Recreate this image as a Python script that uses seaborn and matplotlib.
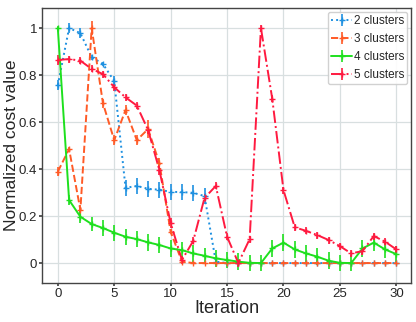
import numpy as np
import matplotlib
matplotlib.use("Agg")
import matplotlib.pyplot as plt
import seaborn as sns

# iterations
iterations = list(range(31))

# normalized cost per number of clusters
cost2 = [0.757, 1.0, 0.978, 0.876, 0.847, 0.774, 0.32, 0.328, 0.316, 0.312, 0.303,
         0.302, 0.299, 0.285, 0.006, 0.0, 0.0, 0.0, 0.0, 0.0, 0.0,
         0.0, 0.0, 0.0, 0.0, 0.0, 0.0, 0.0, 0.0, 0.0, 0.0]
err2 = [0.02, 0.02, 0.02, 0.01, 0.01, 0.02, 0.035, 0.035, 0.035, 0.035, 0.035,
        0.035, 0.035, 0.035, 0.01, 0.005, 0.005, 0.005, 0.005, 0.005, 0.005,
        0.005, 0.005, 0.005, 0.005, 0.005, 0.005, 0.005, 0.005, 0.005, 0.005]

cost3 = [0.389, 0.485, 0.226, 1.0, 0.68, 0.523, 0.651, 0.523, 0.57, 0.425, 0.133,
         0.006, 0.0, 0.0, 0.0, 0.0, 0.0, 0.0, 0.0, 0.0, 0.0,
         0.0, 0.0, 0.0, 0.0, 0.0, 0.0, 0.0, 0.0, 0.0, 0.0]
err3 = [0.02, 0.01, 0.02, 0.03, 0.02, 0.02, 0.02, 0.02, 0.04, 0.02, 0.01,
        0.005, 0.005, 0.005, 0.005, 0.005, 0.005, 0.005, 0.005, 0.005, 0.005,
        0.005, 0.005, 0.005, 0.005, 0.005, 0.005, 0.005, 0.005, 0.005, 0.005]

cost4 = [1.0, 0.268, 0.197, 0.166, 0.149, 0.129, 0.112, 0.102, 0.088, 0.077, 0.062,
         0.055, 0.041, 0.031, 0.02, 0.013, 0.006, 0.001, 0.0, 0.062, 0.087,
         0.058, 0.041, 0.027, 0.01, 0.001, 0.0, 0.062, 0.087, 0.058, 0.038]
err4 = [0.01, 0.02, 0.025, 0.03, 0.035, 0.035, 0.035, 0.035, 0.035, 0.035, 0.035,
        0.035, 0.035, 0.035, 0.035, 0.035, 0.035, 0.035, 0.035, 0.035, 0.035,
        0.035, 0.035, 0.035, 0.035, 0.035, 0.035, 0.035, 0.035, 0.035, 0.035]

cost5 = [0.864, 0.868, 0.861, 0.826, 0.804, 0.748, 0.705, 0.67, 0.566, 0.396, 0.17,
         0.013, 0.094, 0.277, 0.328, 0.112, 0.0, 0.102, 1.0, 0.70, 0.31,
         0.152, 0.137, 0.119, 0.098, 0.072, 0.041, 0.051, 0.115, 0.091, 0.058]
err5 = [0.02, 0.015, 0.015, 0.015, 0.015, 0.015, 0.015, 0.015, 0.015, 0.02, 0.02,
        0.015, 0.015, 0.015, 0.015, 0.015, 0.015, 0.015, 0.015, 0.015, 0.015,
        0.015, 0.015, 0.015, 0.015, 0.015, 0.015, 0.015, 0.015, 0.015, 0.015]

labels = ["2 clusters", "3 clusters", "4 clusters", "5 clusters"]
colors = ["#1e90e0", "#ff5a26", "#1ee01e", "#ff1a40"]
styles = [":", "--", "-", "-."]

sns.set_theme(style="whitegrid")
plt.rcParams["font.family"] = ["Liberation Sans", "DejaVu Sans"]

fig, ax = plt.subplots(figsize=(4.16, 3.22), dpi=100)

for cost, err, lab, col, ls in zip([cost2, cost3, cost4, cost5], [err2, err3, err4, err5],
                                   labels, colors, styles):
    ax.errorbar(iterations, cost, yerr=err, label=lab, color=col, linestyle=ls,
                linewidth=1.4, marker="+", markersize=5, elinewidth=1.2, capsize=0)

ax.set_xlim(-1.4, 31.3)
ax.set_ylim(-0.085, 1.085)
ax.set_xticks([0, 5, 10, 15, 20, 25, 30])
ax.set_yticks([0, 0.2, 0.4, 0.6, 0.8, 1.0])
ax.set_yticklabels(["0", "0.2", "0.4", "0.6", "0.8", "1"])
ax.tick_params(labelsize=9.5, length=2, color="#444444", left=True, bottom=True, pad=1.5)
for s in ax.spines.values():
    s.set_color("#444444")
    s.set_linewidth(1.0)
ax.grid(color="#d8dfe0", linewidth=0.9)
ax.set_xlabel("Iteration", fontsize=13, labelpad=0)
ax.set_ylabel("Normalized cost value", fontsize=12.5, labelpad=0)
ax.legend(loc="upper right", fontsize=8.5, handlelength=1.8, handletextpad=0.1,
          borderpad=0.3, labelspacing=0.5, borderaxespad=0.3, framealpha=0.9)

fig.subplots_adjust(left=0.101, right=0.988, top=0.975, bottom=0.121)
fig.savefig("out.png", dpi=100)
